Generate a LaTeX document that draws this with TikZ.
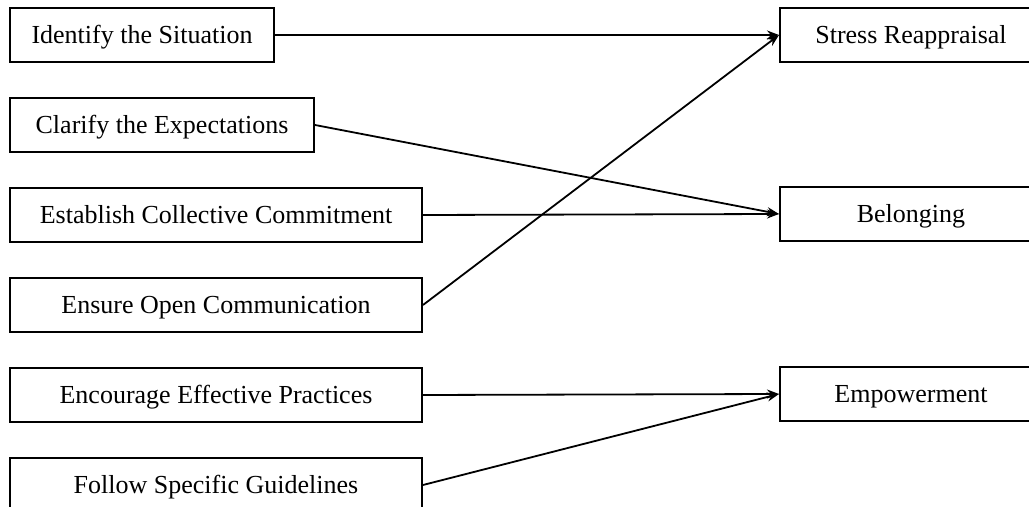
\documentclass[tikz,border=0pt]{standalone}
\usepackage{fontspec}
\setmainfont{Liberation Serif}
\usetikzlibrary{arrows.meta}

\tikzset{
  stepbox/.style={draw, line width=1pt, anchor=north west, minimum height=27pt,
    inner sep=0pt, text height=9pt, text depth=0pt, font=\fontsize{13}{15}\selectfont},
  link/.style={line width=0.9pt, -{Stealth[length=6pt,width=4.5pt]}}
}

\begin{document}
\begin{tikzpicture}[x=0.5pt,y=-0.5pt]
  \def\lx{9};   
  \def\rx{779}; 
  \def\dy{90};  
  \useasboundingbox (0,0) rectangle (1029,507);
  \clip (0,0) rectangle (1029,507);
  % left column
  \node[stepbox, minimum width=132pt] (ident) at (\lx,7) {Identify the Situation};
  \node[stepbox, minimum width=152pt] (clarify) at (\lx,7+\dy) {Clarify the Expectations};
  \node[stepbox, minimum width=206pt] (commit) at (\lx,7+2*\dy) {Establish Collective Commitment};
  \node[stepbox, minimum width=206pt] (comm) at (\lx,7+3*\dy) {Ensure Open Communication};
  \node[stepbox, minimum width=206pt] (practice) at (\lx,7+4*\dy) {Encourage Effective Practices};
  \node[stepbox, minimum width=206pt] (guide) at (\lx,7+5*\dy) {Follow Specific Guidelines};
  % right column
  \node[stepbox, minimum width=131pt] (stress) at (\rx,7) {Stress Reappraisal};
  \node[stepbox, minimum width=131pt] (belong) at (\rx,186) {Belonging};
  \node[stepbox, minimum width=131pt] (empower) at (\rx,366) {Empowerment};
  % links
  \draw[link] (ident.east) -- (stress.west);
  \draw[link] (clarify.east) -- (belong.west);
  \draw[link] (commit.east) -- (belong.west);
  \draw[link] (comm.east) -- (stress.west);
  \draw[link] (practice.east) -- (empower.west);
  \draw[link] (guide.east) -- (empower.west);
\end{tikzpicture}
\end{document}
